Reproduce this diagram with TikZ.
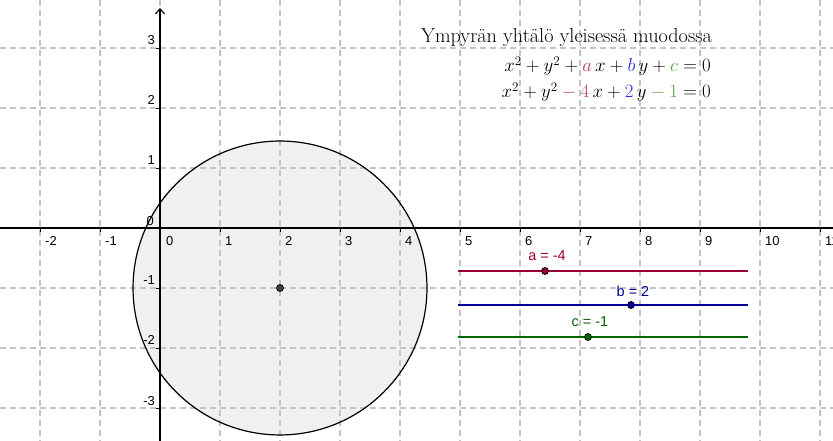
\documentclass[tikz,border=0pt]{standalone}
\usepackage{fontspec}
\newfontfamily\labfont{Liberation Sans}
\usetikzlibrary{arrows.meta}
\definecolor{gridc}{HTML}{C4C4C4}
\definecolor{sa}{RGB}{153,0,51}
\definecolor{sb}{RGB}{0,0,153}
\definecolor{sc}{RGB}{0,102,0}
\definecolor{ea}{RGB}{192,64,96}
\definecolor{eb}{RGB}{40,40,230}
\definecolor{ec}{RGB}{90,160,60}
\definecolor{fillc}{HTML}{F0F0F0}
\begin{document}
\begin{tikzpicture}[x=1bp,y=-1bp,
  gridline/.style={draw=gridc, line width=1.2bp, dash pattern=on 6bp off 4bp},
  axisline/.style={draw=black, line width=1.1bp},
  tickmark/.style={draw=black, line width=0.9bp},
  ticklab/.style={font=\labfont\fontsize{13}{15}\selectfont, inner sep=0pt},
  slidelab/.style={font=\labfont\fontsize{14.5}{16}\selectfont, inner sep=0pt, anchor=base},
  sliderline/.style={line width=2bp},
  pt/.style={circle, inner sep=0pt, minimum size=7bp, draw=black, line width=0.7bp},
  titlelab/.style={inner sep=0pt, anchor=base east, font=\fontsize{20.3}{24}\selectfont},
  texlab/.style={inner sep=0pt, anchor=base east, font=\fontsize{17.28}{21}\selectfont}
]
\useasboundingbox (0,0) rectangle (833,441);
\fill[white] (0,0) rectangle (833,441);
% circle fill
\fill[fillc] (280,288) circle[radius=146.97bp];
% grid
\foreach \k in {-2,...,11} \draw[gridline] ({160+60*\k},0) -- ({160+60*\k},441);
\foreach \k in {-3,...,3} \draw[gridline] (0,{228-60*\k}) -- (833,{228-60*\k});
% axes
\coordinate (xl) at (0,228);
\coordinate (xr) at (833,228);
\coordinate (yb) at (160,441);
\coordinate (yt) at (160,8);
\draw[axisline] (xl) -- (xr);
\draw[axisline,-{Straight Barb[length=5bp,width=9bp]}] (yb) -- (yt);
% ticks
\foreach \k in {-2,...,11} \draw[tickmark] ({160+60*\k},228) -- ({160+60*\k},232);
\foreach \k in {-3,...,3} \draw[tickmark] (156,{228-60*\k}) -- (160,{228-60*\k});
% tick labels
\foreach \k in {-2,-1,1,2,3,4,5,6,7,8,9,10,11}
  \node[ticklab, anchor=base west] (xlab\k) at ({160+60*\k+5},245.5) {\k};
\node[ticklab, anchor=base west] (xlab0) at (166,245.5) {0};
\node[ticklab, anchor=base east] (ylab0) at (154,226) {0};
\foreach \k in {3,2,1,-1,-2,-3}
  \node[ticklab, anchor=base east] (ylab\k) at (155,{228-60*\k-3}) {\k};
% circle
\draw[black, line width=1.2bp] (280,288) circle[radius=146.97bp];
\node[pt, fill=black!75] (M) at (280,288) {};
% sliders
\coordinate (aL) at (458,271); \coordinate (aR) at (748,271);
\draw[sa, sliderline] (aL) -- (aR);
\node[pt, fill=sa] (aP) at (545,271) {};
\node[slidelab, text=sa] (aT) at (547,261) {a = -4};
\coordinate (bL) at (458,305); \coordinate (bR) at (748,305);
\draw[sb, sliderline] (bL) -- (bR);
\node[pt, fill=sb] (bP) at (631,305) {};
\node[slidelab, text=sb] (bT) at (633,297) {b = 2};
\coordinate (cL) at (458,337); \coordinate (cR) at (748,337);
\draw[sc, sliderline] (cL) -- (cR);
\node[pt, fill=sc] (cP) at (588,337) {};
\node[slidelab, text=sc] (cT) at (590,327) {c = -1};
% text
\node[titlelab] (title) at (712,43) {Ympyrän yhtälö yleisessä muodossa};
\node[texlab] (eq1) at (711,72) {\scalebox{1.095}{$x^2+y^2+{\color{ea}a}\,x+{\color{eb}b}\,y+{\color{ec}c}=0$}};
\node[texlab] (eq2) at (711,98) {\scalebox{1.095}{$x^2+y^2\mathbin{\color{ea}-}{\color{ea}4}\,x+{\color{eb}2}\,y\mathbin{\color{ec}-}{\color{ec}1}=0$}};
\end{tikzpicture}
\end{document}
